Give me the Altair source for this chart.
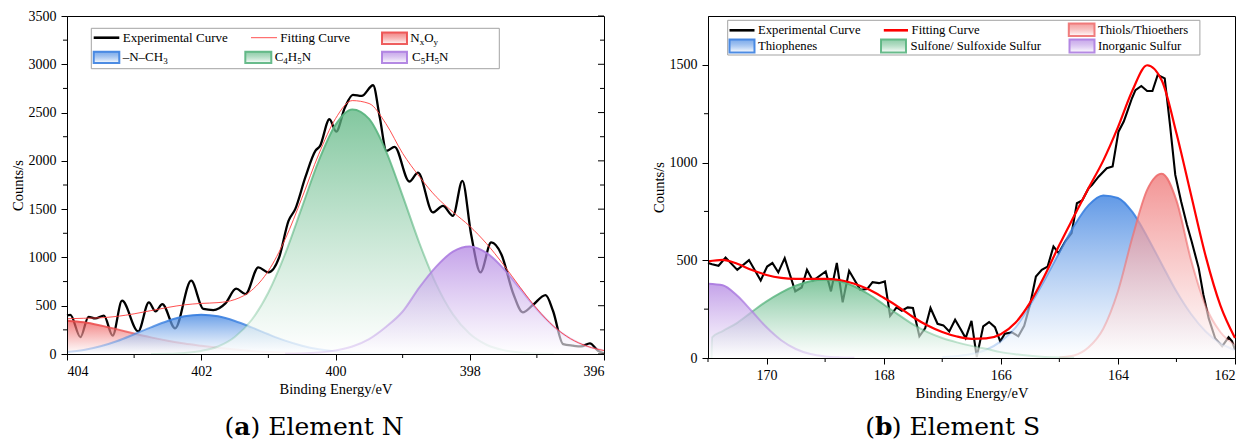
import altair as alt
import pandas as pd

# ---------------- Panel (a): Element N ----------------
N_ENERGY = [404.00, 403.75, 403.50, 403.25, 403.00, 402.75, 402.50, 402.25, 402.00, 401.75,
            401.50, 401.25, 401.00, 400.75, 400.50, 400.25, 400.00, 399.75, 399.50, 399.25,
            399.00, 398.75, 398.50, 398.25, 398.00, 397.75, 397.50, 397.25, 397.00, 396.75,
            396.50, 396.25, 396.00]
N_NXOY = [345, 328, 295, 255, 212, 172, 137, 108, 85, 64,
          46, 31, 20, 12, 7, 4, 2, 1, None, None,
          None, None, None, None, None, None, None, None, None, None,
          None, None, None]
N_NCH3 = [20, 42, 80, 135, 204, 276, 342, 390, 407, 390,
          342, 276, 204, 138, 86, 49, 26, 12, 5, 2,
          1, None, None, None, None, None, None, None, None, None,
          None, None, None]
N_C4H5N = [None, None, None, None, None, 1, 3, 11, 32, 78,
           176, 352, 637, 1036, 1518, 2000, 2373, 2533, 2434, 2104,
           1637, 1147, 723, 410, 209, 96, 40, 15, 5, 1,
           None, None, None]
N_C5H5N = [None, None, None, None, None, None, None, None, None, None,
           None, None, None, 2, 5, 15, 36, 78, 155, 280,
           440, 690, 905, 1060, 1114, 1047, 887, 676, 463, 286,
           159, 80, 36]
N_FIT = [365, 370, 375, 390, 416, 449, 482, 509, 524, 532,
         564, 659, 861, 1188, 1616, 2068, 2437, 2624, 2594, 2386,
         2078, 1837, 1628, 1470, 1323, 1143, 927, 691, 468, 287,
         159, 80, 36]
N_EXP_ENERGY = [404.00, 403.95, 403.80, 403.68, 403.58, 403.45, 403.32, 403.18, 402.94, 402.78,
                402.68, 402.58, 402.39, 402.15, 401.97, 401.82, 401.64, 401.48, 401.34, 401.15,
                401.00, 400.84, 400.70, 400.60, 400.45, 400.30, 400.23, 400.09, 399.99, 399.86,
                399.74, 399.61, 399.44, 399.34, 399.24, 399.12, 398.90, 398.77, 398.55, 398.40,
                398.25, 398.11, 397.98, 397.84, 397.68, 397.53, 397.35, 397.21, 397.06, 396.87,
                396.76, 396.61, 396.46, 396.34, 396.21, 396.09, 396.00]
N_EXP_COUNTS = [400, 405, 175, 385, 368, 397, 190, 552, 234, 534,
                441, 517, 266, 759, 466, 455, 524, 676, 621, 897,
                845, 1000, 1379, 1500, 1828, 2103, 2155, 2431, 2303, 2552,
                2683, 2672, 2783, 2448, 2103, 2145, 1786, 1879, 1466, 1534,
                1431, 1793, 1241, 845, 1155, 1034, 621, 431, 507, 610,
                448, 103, 86, 79, 110, 34, 7]
N_X_TICKS = [404, 402, 400, 398, 396]
N_X_MINOR = [403, 401, 399, 397]
N_Y_TICKS = [0, 500, 1000, 1500, 2000, 2500, 3000, 3500]
N_Y_MINOR = [250, 750, 1250, 1750, 2250, 2750, 3250]

# ---------------- Panel (b): Element S ----------------
S_ENERGY = [171.00, 170.75, 170.50, 170.25, 170.00, 169.75, 169.50, 169.25, 169.00, 168.75,
            168.50, 168.25, 168.00, 167.75, 167.50, 167.25, 167.00, 166.75, 166.50, 166.25,
            166.00, 165.75, 165.50, 165.25, 165.00, 164.75, 164.50, 164.25, 164.00, 163.75,
            163.50, 163.25, 163.00, 162.75, 162.50, 162.25, 162.00]
S_INORGANIC = [380, 372, 318, 239, 157, 91, 46, 20, 8, 3,
               1, None, None, None, None, None, None, None, None, None,
               None, None, None, None, None, None, None, None, None, None,
               None, None, None, None, None, None, None]
S_THIOPHENES = [None, None, None, None, None, None, None, None, None, None,
                None, None, None, None, None, None, 5, 10, 20, 42,
                85, 155, 270, 400, 540, 675, 782, 832, 819, 746,
                621, 480, 341, 225, 136, 76, 40]
S_THIOLS = [None, None, None, None, None, None, None, None, None, None,
            None, None, None, None, None, None, None, None, None, None,
            None, None, None, None, 3, 13, 55, 150, 340, 620,
            860, 943, 805, 500, 265, 133, 68]
S_SULFONE_ENERGY = [170.94, 170.93, 170.75, 170.50, 170.25, 170.00, 169.75, 169.50, 169.25, 169.00,
                    168.75, 168.50, 168.25, 168.00, 167.75, 167.50, 167.25, 167.00, 166.75, 166.50,
                    166.25, 166.00, 165.75, 165.50, 165.25, 165.00, 164.75]
S_SULFONE = [0, 106, 138, 180, 236, 290, 335, 370, 393, 400,
             393, 366, 325, 274, 222, 172, 132, 102, 80, 62,
             47, 30, 19, 11, 5, 2, 1]
S_FIT = [494, 502, 482, 450, 425, 410, 405, 405, 405, 399,
         380, 350, 308, 262, 210, 166, 133, 110, 98, 100,
         122, 180, 283, 422, 578, 725, 870, 1010, 1180, 1370,
         1498, 1420, 1150, 834, 520, 269, 102]
S_EXP_ENERGY = [171.00, 170.93, 170.82, 170.70, 170.50, 170.30, 170.10, 169.99, 169.90, 169.80,
                169.69, 169.51, 169.40, 169.31, 169.21, 168.99, 168.90, 168.80, 168.70, 168.59,
                168.40, 168.28, 168.19, 168.08, 167.98, 167.89, 167.78, 167.69, 167.59, 167.50,
                167.39, 167.29, 167.20, 167.08, 166.98, 166.88, 166.78, 166.68, 166.60, 166.50,
                166.41, 166.30, 166.20, 166.10, 166.01, 165.93, 165.81, 165.70, 165.60, 165.50,
                165.40, 165.30, 165.20, 165.10, 165.01, 164.90, 164.79, 164.70, 164.61, 164.50,
                164.44, 164.33, 164.19, 164.09, 163.99, 163.90, 163.85, 163.76, 163.70, 163.60,
                163.50, 163.41, 163.32, 163.20, 163.11, 163.02, 162.92, 162.82, 162.74, 162.62,
                162.54, 162.45, 162.34, 162.22, 162.11, 162.05, 162.00]
S_EXP_COUNTS = [486, 480, 472, 514, 451, 501, 397, 468, 486, 438,
                511, 341, 361, 451, 395, 443, 341, 486, 285, 446,
                349, 353, 388, 383, 392, 216, 259, 242, 259, 256,
                111, 153, 256, 175, 167, 136, 196, 145, 102, 190,
                5, 162, 184, 158, 85, 124, 131, 111, 165, 273,
                417, 451, 468, 571, 537, 596, 639, 792, 806, 869,
                886, 928, 971, 980, 1158, 1210, 1252, 1329, 1371, 1392,
                1366, 1366, 1448, 1431, 1193, 937, 801, 681, 596, 460,
                324, 204, 102, 60, 106, 85, 43]
S_X_TICKS = [170, 168, 166, 164, 162]
S_X_MINOR = [171, 169, 167, 165, 163]
S_Y_TICKS = [0, 500, 1000, 1500]
S_Y_MINOR = [250, 750, 1250]

# ---------------- styling ----------------
FONT = "Liberation Serif"
CAP_FONT = "DejaVu Serif"
W_N, H_N = 537, 338
W_S, H_S = 527, 342

RED = (236, 76, 76)
BLUE = (58, 128, 224)
GREEN = (88, 180, 126)
PURPLE = (172, 124, 224)
PINK = (238, 112, 112)

ONE = pd.DataFrame({"k": [0]})
CHAR_W = {"N": 0.722, "O": 0.722, "C": 0.667, "H": 0.722, "\u2013": 0.5}


def rgba(c, a):
    return f"rgba({c[0]},{c[1]},{c[2]},{a})"


def grad(top, bottom):
    return alt.LinearGradient(
        gradient="linear",
        stops=[alt.GradientStop(color=top, offset=0), alt.GradientStop(color=bottom, offset=1)],
        x1=0, x2=0, y1=0, y2=1,
    )


def frame(energy, values):
    return pd.DataFrame({"energy": energy, "counts": values}).dropna()


def x_enc(domain, ticks):
    return alt.X("energy:Q",
                 scale=alt.Scale(domain=domain, reverse=True, nice=False, zero=False),
                 axis=alt.Axis(values=ticks, format="d", title="Binding Energy/eV",
                               tickSize=6, labelPadding=4, titlePadding=4, zindex=1))


def y_enc(top, ticks):
    return alt.Y("counts:Q",
                 scale=alt.Scale(domain=[0, top], nice=False, zero=True),
                 axis=alt.Axis(values=ticks, format="d", title="Counts/s",
                               tickSize=6, labelPadding=5, titlePadding=3, zindex=1))


def component(df, col, alpha, X, Y, interp="monotone"):
    area = alt.Chart(df).mark_area(
        interpolate=interp,
        fill=grad(rgba(col, alpha), "rgba(255,255,255,0.62)"),
    ).encode(x=X, y=Y)
    line = alt.Chart(df).mark_line(
        interpolate=interp, strokeWidth=2,
        stroke=grad(rgba(col, 0.95), rgba(col, 0.22)),
    ).encode(x=X, y=Y)
    return [area, line]


def rich_text(segments, x0, y, size, sub_size):
    out = []
    x = x0
    for txt, sub in segments:
        fs = sub_size if sub else size
        out.append(alt.Chart(ONE).mark_text(
            text=txt, align="left", baseline="middle", font=FONT, fontSize=fs,
            dy=4 if sub else 0, color="black").encode(x=alt.value(x), y=alt.value(y)))
        x += sum(CHAR_W.get(ch, 0.5) for ch in txt) * fs
    return out


def legend(box, entries, size, sub_size):
    out = [alt.Chart(ONE).mark_rect(fill="white", stroke="#a3a3a3", strokeWidth=1).encode(
        x=alt.value(box[0]), x2=alt.value(box[1]), y=alt.value(box[2]), y2=alt.value(box[3]))]
    for e in entries:
        if e["kind"] == "line":
            out.append(alt.Chart(ONE).mark_rule(color=e["color"], strokeWidth=e["width"]).encode(
                x=alt.value(e["sx"][0]), x2=alt.value(e["sx"][1]), y=alt.value(e["y"])))
        else:
            c = e["color"]
            out.append(alt.Chart(ONE).mark_rect(
                fill=grad(rgba(c, 0.65), "rgba(255,255,255,1)"), stroke=rgba(c, 0.9), strokeWidth=2
            ).encode(x=alt.value(e["sx"][0]), x2=alt.value(e["sx"][1]),
                     y=alt.value(e["sy"][0]), y2=alt.value(e["sy"][1])))
        out += rich_text(e["label"], e["tx"], e["y"], size, sub_size)
    return out


def caption(letter, rest, left, wp, wl, base):
    al = left + wp
    common = dict(baseline="alphabetic", font=CAP_FONT, fontSize=25, color="black")
    return [
        alt.Chart(ONE).mark_text(text="(", align="right", **common).encode(x=alt.value(al), y=alt.value(base)),
        alt.Chart(ONE).mark_text(text=letter, align="left", fontWeight="bold", **common).encode(x=alt.value(al), y=alt.value(base)),
        alt.Chart(ONE).mark_text(text=rest, align="left", **common).encode(x=alt.value(al + wl), y=alt.value(base)),
    ]


def tick_rules(values, X=None, Y=None, field=None, **pos):
    df = pd.DataFrame({field: values})
    enc = dict(pos)
    if X is not None:
        enc["x"] = X
    if Y is not None:
        enc["y"] = Y
    return alt.Chart(df).mark_rule(color="black", strokeWidth=1).encode(**enc)


# ---------------- panel (a) ----------------
XN = x_enc([396, 404], N_X_TICKS)
YN = y_enc(3500, N_Y_TICKS)

layers_n = [
    alt.Chart(frame(N_EXP_ENERGY, N_EXP_COUNTS)).mark_line(
        interpolate="monotone", color="black", strokeWidth=2.3).encode(x=XN, y=YN)
]
layers_n += component(frame(N_ENERGY, N_NXOY), RED, 0.7, XN, YN)
layers_n += component(frame(N_ENERGY, N_NCH3), BLUE, 0.75, XN, YN)
layers_n += component(frame(N_ENERGY, N_C4H5N), GREEN, 0.75, XN, YN)
layers_n += component(frame(N_ENERGY, N_C5H5N), PURPLE, 0.7, XN, YN)
layers_n.append(alt.Chart(frame(N_ENERGY, N_FIT)).mark_line(
    interpolate="monotone", color="#ff3c3c", strokeWidth=0.9).encode(x=XN, y=YN))
layers_n += [
    tick_rules(N_X_MINOR, X=XN, field="energy", y=alt.value(H_N), y2=alt.value(H_N + 4)),
    tick_rules(N_Y_MINOR, Y=YN, field="counts", x=alt.value(-4), x2=alt.value(0)),
    tick_rules(N_Y_TICKS, Y=YN, field="counts", x=alt.value(W_N - 6), x2=alt.value(W_N)),
    tick_rules(N_Y_MINOR, Y=YN, field="counts", x=alt.value(W_N - 4), x2=alt.value(W_N)),
]
n_entries = [
    dict(kind="line", color="black", width=2.6, sx=(26.7, 52.3), y=21.7, tx=55.7,
         label=[("Experimental Curve", False)]),
    dict(kind="line", color="#ff5050", width=1, sx=(184, 210), y=21.7, tx=213.3,
         label=[("Fitting Curve", False)]),
    dict(kind="rect", color=RED, sx=(315, 340), sy=(16.5, 28), y=21.7, tx=343.3,
         label=[("N", False), ("x", True), ("O", False), ("y", True)]),
    dict(kind="rect", color=BLUE, sx=(26.7, 52.3), sy=(35.7, 47), y=41, tx=55.7,
         label=[("\u2013N\u2013CH", False), ("3", True)]),
    dict(kind="rect", color=GREEN, sx=(178.3, 204.3), sy=(35.7, 47), y=41, tx=207.7,
         label=[("C", False), ("4", True), ("H", False), ("5", True), ("N", False)]),
    dict(kind="rect", color=PURPLE, sx=(315, 340), sy=(35.7, 47), y=41, tx=345,
         label=[("C", False), ("5", True), ("H", False), ("5", True), ("N", False)]),
]
layers_n += legend((24.3, 432.3, 12.3, 52.7), n_entries, 13, 9)
layers_n += caption("a", ") Element N", 157.5, 9.75, 16.2, 419)
panel_n = alt.layer(*layers_n).properties(width=W_N, height=H_N)

# ---------------- panel (b) ----------------
XS = x_enc([162, 171], S_X_TICKS)
YS = y_enc(1750, S_Y_TICKS)

layers_s = [
    alt.Chart(frame(S_EXP_ENERGY, S_EXP_COUNTS)).mark_line(
        color="black", strokeWidth=2.1).encode(x=XS, y=YS)
]
layers_s += component(frame(S_ENERGY, S_THIOPHENES), BLUE, 0.8, XS, YS)
layers_s += component(frame(S_ENERGY, S_THIOLS), PINK, 0.75, XS, YS)
layers_s += component(frame(S_SULFONE_ENERGY, S_SULFONE), GREEN, 0.75, XS, YS)
layers_s += component(frame(S_ENERGY, S_INORGANIC), PURPLE, 0.7, XS, YS)
layers_s.append(alt.Chart(frame(S_ENERGY, S_FIT)).mark_line(
    interpolate="monotone", color="#ff0000", strokeWidth=2.2).encode(x=XS, y=YS))
layers_s += [
    tick_rules(S_X_MINOR, X=XS, field="energy", y=alt.value(H_S), y2=alt.value(H_S + 4)),
    tick_rules(S_Y_MINOR, Y=YS, field="counts", x=alt.value(-4), x2=alt.value(0)),
]
s_entries = [
    dict(kind="line", color="black", width=2.6, sx=(21.5, 46.5), y=14.3, tx=50,
         label=[("Experimental Curve", False)]),
    dict(kind="line", color="#ff0000", width=2.6, sx=(175.8, 200), y=14.3, tx=203.6,
         label=[("Fitting Curve", False)]),
    dict(kind="rect", color=PINK, sx=(360.8, 386.5), sy=(7.5, 20), y=14.3, tx=390,
         label=[("Thiols/Thioethers", False)]),
    dict(kind="rect", color=BLUE, sx=(21.5, 46.5), sy=(23.5, 36.5), y=30, tx=50,
         label=[("Thiophenes", False)]),
    dict(kind="rect", color=GREEN, sx=(173, 198), sy=(23.5, 36.5), y=30, tx=202.6,
         label=[("Sulfone/ Sulfoxide Sulfur", False)]),
    dict(kind="rect", color=PURPLE, sx=(361.5, 386.5), sy=(23.5, 36.5), y=30, tx=390,
         label=[("Inorganic Sulfur", False)]),
]
layers_s += legend((19.7, 491.9, 4.3, 39), s_entries, 12.7, 8.5)
layers_s += caption("b", ") Element S", 157.3, 9.75, 16.7, 419)
panel_s = alt.layer(*layers_s).properties(width=W_S, height=H_S)

chart = alt.hconcat(panel_n, panel_s, spacing=104, bounds="flush").properties(
    padding={"left": 1, "top": 0, "right": 4, "bottom": 0}
).configure_view(
    stroke="black", strokeWidth=1
).configure_axis(
    labelFont=FONT, labelFontSize=14, labelColor="black",
    titleFont=FONT, titleFontSize=14.5, titleFontWeight="normal", titleColor="black",
    domainColor="black", tickColor="black", grid=False,
)

chart.save("out.html", embed_options={"renderer": "svg", "actions": False})
